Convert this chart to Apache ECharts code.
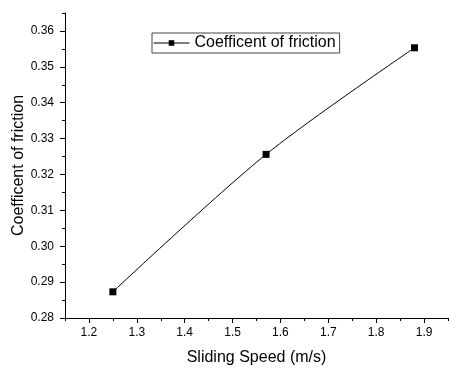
<!DOCTYPE html>
<html>
<head>
<meta charset="utf-8">
<script src="https://cdn.jsdelivr.net/npm/echarts@6/dist/echarts.min.js"></script>
<style>html,body{margin:0;padding:0;background:#fff;}#c{width:449px;height:371px;}</style>
</head>
<body>
<div id="c"></div>
<script>
const speeds = [1.25, 1.57, 1.88];
const friction = [0.2873, 0.3256, 0.3553];
const xTicks = [1.2, 1.3, 1.4, 1.5, 1.6, 1.7, 1.8, 1.9];
const yTicks = [0.28, 0.29, 0.30, 0.31, 0.32, 0.33, 0.34, 0.35, 0.36];
const seriesName = 'Coefficent of friction';
const xTitle = 'Sliding Speed (m/s)';
const yTitle = 'Coefficent of friction';

const FONT = 'Liberation Sans, Arial, sans-serif';
const chart = echarts.init(document.getElementById('c'), null, {renderer: 'canvas'});
const lineStyle = {color: '#000', width: 1};
chart.setOption({
  animation: false,
  backgroundColor: '#fff',
  grid: {left: 65, right: 1, top: 13, bottom: 49, containLabel: false},
  legend: {
    left: 152, top: 33,
    padding: [2, 4, 2, 1],
    borderColor: '#444', borderWidth: 1,
    itemWidth: 36, itemHeight: 7, itemGap: 5,
    lineStyle: {width: 1, color: '#000'},
    itemStyle: {color: '#000'},
    textStyle: {fontFamily: FONT, fontSize: 16, color: '#000'},
    data: [seriesName]
  },
  xAxis: [{
    type: 'value', min: 1.15, max: 1.95, interval: 0.05,
    axisLine: {lineStyle: lineStyle},
    axisTick: {inside: false, length: 3, lineStyle: lineStyle},
    axisLabel: {show: false},
    splitLine: {show: false},
    name: xTitle, nameLocation: 'middle', nameGap: 32,
    nameTextStyle: {fontFamily: FONT, fontSize: 16, color: '#000'}
  }, {
    type: 'value', min: 1.15, max: 1.95, position: 'bottom', offset: 0,
    axisLine: {show: false},
    axisTick: {inside: false, length: 5, lineStyle: lineStyle, customValues: xTicks},
    axisLabel: {customValues: xTicks, fontFamily: FONT, fontSize: 12, color: '#000', margin: 9,
      formatter: v => v.toFixed(1)},
    splitLine: {show: false}
  }],
  yAxis: [{
    type: 'value', min: 0.28, max: 0.365, interval: 0.005,
    axisLine: {show: true, lineStyle: lineStyle},
    axisTick: {show: true, inside: false, length: 3, lineStyle: lineStyle},
    axisLabel: {show: false},
    splitLine: {show: false},
    name: yTitle, nameLocation: 'middle', nameGap: 38, nameRotate: 90,
    nameTextStyle: {fontFamily: FONT, fontSize: 16, color: '#000'}
  }, {
    type: 'value', min: 0.28, max: 0.365, position: 'left', offset: 0,
    axisLine: {show: false},
    axisTick: {show: true, inside: false, length: 5, lineStyle: lineStyle, customValues: yTicks},
    axisLabel: {customValues: yTicks, fontFamily: FONT, fontSize: 12, color: '#000', margin: 11,
      formatter: v => v.toFixed(2)},
    splitLine: {show: false}
  }],
  series: [{
    name: seriesName,
    type: 'line',
    xAxisIndex: 0, yAxisIndex: 0,
    data: speeds.map((s, i) => [s, friction[i]]),
    smooth: 0.3,
    symbol: 'rect', symbolSize: 7,
    lineStyle: {color: '#000', width: 1},
    itemStyle: {color: '#000'}
  }]
});
</script>
</body>
</html>
